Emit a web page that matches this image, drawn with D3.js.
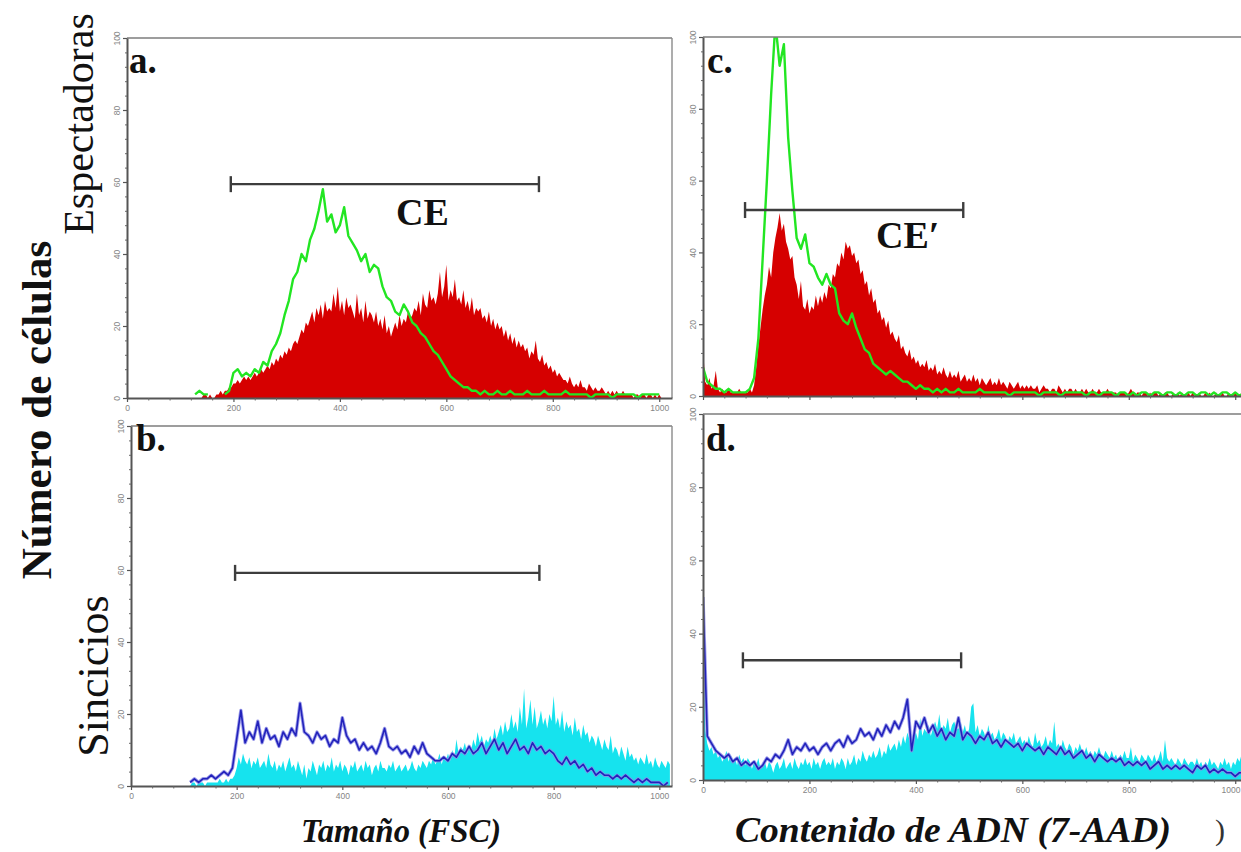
<!DOCTYPE html>
<html>
<head>
<meta charset="utf-8">
<script src="https://cdn.jsdelivr.net/npm/d3@7"></script>
<style>
  body { margin: 0; background: #fff; }
  svg { display: block; }
</style>
</head>
<body>
<svg id="fig" width="1241" height="852"></svg>
<script>
// Histogram channels run 0..1024; fills are stored in 4-channel bins, overlay lines in 8-channel bins.
const channelMax = 1024;
const fillBin = 4;
const lineBin = 8;

// a. Size (FSC), bystander cells: filled population (red) and overlay (green)
const fscBystanderFill = [
  0,0,0,0,0,0,0,0,0,0, 0,0,0,0,0,0,0,0,0,0, 0,0,0,0,0,0,0,0,0,0,
  0,0,0,0,0,0,1,1,0,1,0,0,1,1,2,1,
  2,2,3,3,4,
  4,5,4,5,6,5,6,5,6,7,6,7,8,7,8,
  9,8,10,9,11,10,12,11,13,12,
  14,13,15,16,15,17,19,18,21,20,
  22,24,21,25,23,26,22,27,24,25,
  24,29,25,31,24,27,23,28,25,26,
  24,22,29,23,25,21,27,22,24,23,
  21,24,20,22,19,23,18,20,17,19,
  21,19,23,20,22,21,24,22,23,25,
  24,27,23,29,26,25,30,27,28,26,
  29,35,28,31,37,27,30,28,33,27,
  28,26,30,25,27,24,28,23,25,24,
  25,22,23,21,24,20,22,19,21,19,
  20,17,19,16,18,15,17,14,16,14,
  15,13,14,11,13,12,16,11,10,12,
  9,10,8,9,7,8,6,7,6,5,
  5,4,6,4,3,4,3,5,3,3,
  2,4,3,2,3,2,2,3,2,1,
  2,1,2,1,2,1,1,2,1,1,
  1,1,0,1,1,0,1,1,0,1,
  1,0,1,0,1,0,0,0,0,0
];
const fscBystanderLine = [
  null,null,null,null,null,null,null,null,null,null,null,null,null,null,null,
  null,1,2,1,1,null,null,null,1,2,
  7,8,6,7,6,8,7,10,9,13,
  15,18,23,27,33,35,40,38,44,47,
  52,58,49,51,46,48,53,45,43,41,
  38,40,35,37,36,31,28,27,24,23,
  26,24,21,20,18,17,15,13,12,10,
  8,6,5,4,3,3,2,2,1,2,1,
  1,2,1,1,2,1,1,1,2,1,
  1,1,2,1,1,1,1,2,1,1,
  1,1,1,0,1,1,1,1,0,1,
  1,1,1,1,0,1,1,1,1,1,
  null,null
];

// b. Size (FSC), syncytia: filled population (cyan) and overlay (blue)
const fscSyncytiaFill = [
  0,0,0,0,0,0,0,0,0,0, 0,0,0,0,0,0,0,0,0,0, 0,0,0,0,0,0,0,0,0,
  1,1,0,1,1,1,0,1,1,1,1,1,1,2,1,1,2,1,2,2,3,
  5,8,6,9,7,6,8,5,7,6,
  8,5,6,7,5,9,6,5,7,4,
  6,5,7,4,6,8,5,6,4,7,
  5,3,6,2,5,4,7,5,3,6,
  5,7,4,6,5,8,4,6,5,7,
  4,6,5,3,6,5,7,4,5,6,
  4,7,5,6,3,5,6,4,7,5,
  5,4,6,5,7,4,5,6,4,5,
  6,4,5,7,5,4,6,5,7,6,
  5,7,6,8,6,7,9,6,8,7,
  9,7,10,8,13,9,11,10,12,9,
  11,10,13,11,15,12,14,11,13,12,
  14,12,16,13,15,17,14,18,15,16,
  20,16,18,15,22,17,27,16,19,24,
  17,22,16,18,21,17,19,16,20,18,
  25,17,19,16,21,15,18,16,17,14,
  19,15,16,13,17,14,15,12,14,13,
  11,14,12,10,13,11,10,14,9,11,
  10,8,11,9,7,11,8,9,7,8,
  6,8,7,6,9,6,7,5,8,6,
  5,7,6,5,7,6
];
const fscSyncytiaLine = [
  null,null,null,null,null,null,null,null,null,null,null,null,null,null,
  1,2,1,2,2,3,2,3,4,3,
  5,13,21,12,15,13,18,12,16,13,
  14,11,15,13,16,14,23,15,14,12,
  15,13,14,11,13,12,19,14,12,13,
  10,12,10,11,9,12,16,11,10,11,
  9,10,8,11,9,12,9,8,7,7,
  8,7,9,8,10,9,11,9,10,12,
  9,11,13,10,12,9,11,13,10,11,
  9,12,10,11,9,10,9,7,6,8,
  6,7,5,6,4,5,3,4,3,3,
  2,3,2,3,2,1,2,1,2,1,
  1,1,0,1
];

// c. DNA content (7-AAD), bystander cells
const dnaBystanderFill = [
  14,4,3,5,2,3,7,2,1,2,
  1,1,2,1,1,1,1,2,1,1,1,1,2,1,
  3,8,14,19,24,28,31,36,33,40,
  44,47,51,46,48,43,41,38,39,33,
  31,27,32,25,24,27,23,25,24,28,
  25,28,26,29,27,31,30,34,33,37,
  36,40,38,43,41,42,39,40,37,38,
  34,35,31,32,28,30,26,27,23,24,
  21,22,19,21,17,18,16,15,17,13,
  14,12,11,13,10,11,9,10,8,9,
  8,10,7,8,7,9,6,7,6,8,
  6,5,7,5,6,5,7,4,5,6,
  4,5,4,6,4,5,3,5,4,3,
  4,5,3,4,3,5,3,4,3,2,
  4,3,2,3,4,2,3,2,3,2,
  3,2,2,3,1,2,3,2,2,1,
  2,2,1,3,2,1,2,1,2,2,
  1,2,1,1,2,1,2,1,1,2,
  1,1,2,1,1,1,2,1,1,1,
  1,0,1,1,1,0,1,2,1,0,
  1,1,0,1,1,0,1,0,1,1,
  0,1,0,1,1,0,0,1,0,1,
  0,1,0,0,1,0,1,0,0,1,
  0,0,1,0,1,0,0,1,0,0,
  1,0,0,1,0,0,1,0,0,1,0,1
];
const dnaBystanderLine = [
  8,4,3,2,2,1,2,1,1,1,
  1,2,5,16,38,60,84,104,92,98,
  72,57,44,41,45,37,36,33,31,34,
  31,30,23,21,20,23,19,16,13,12,
  9,8,7,6,7,6,5,4,4,3,
  2,3,2,2,1,2,1,2,
  1,1,2,1,1,1,1,2,1,1,
  1,1,1,1,0,1,1,1,1,1,
  1,0,1,1,1,1,0,1,1,1,
  1,1,0,1,1,0,1,1,1,0,
  1,1,0,1,0,1,1,0,1,1,
  0,1,1,0,1,0,1,1,0,1,
  1,0,1,0,1,1,0,1,0,1
];

// d. DNA content (7-AAD), syncytia
const dnaSyncytiaFill = [
  48,14,10,8,9,7,8,6,7,5,
  6,8,5,7,5,6,4,7,5,6,
  4,6,5,3,5,4,6,3,4,5,
  3,5,4,2,4,5,3,4,6,3,
  4,5,3,6,4,3,5,4,6,4,
  5,3,6,4,5,3,5,6,4,5,
  4,6,3,5,4,6,5,3,6,4,
  5,7,4,6,5,8,6,5,7,6,
  8,6,7,9,6,8,7,10,8,9,
  10,8,11,9,12,10,13,11,10,12,
  13,11,17,12,14,13,15,12,14,16,
  14,18,13,15,14,17,13,15,16,14,
  14,16,13,15,12,14,20,21,13,15,
  12,14,13,11,15,12,13,11,12,14,
  11,13,12,10,12,11,13,10,11,12,
  10,11,9,12,10,9,13,10,11,9,
  10,12,9,11,10,16,9,10,8,11,
  9,8,10,9,7,9,8,10,8,7,
  9,7,8,6,8,7,9,7,6,8,
  7,6,8,6,7,5,7,6,8,6,
  6,9,5,7,6,5,7,6,5,7,
  6,5,7,5,6,8,5,11,6,5,
  6,5,4,6,5,4,6,5,4,5,
  5,4,6,4,5,3,5,4,6,4,
  5,4,3,5,4,6,4,5,3,5,
  4,6,5,7,6,7
];
const dnaSyncytiaLine = [
  50,12,10,8,7,6,7,5,6,4,
  5,4,5,3,4,6,5,7,6,8,
  11,7,9,8,10,8,9,7,9,10,
  8,10,11,9,12,10,11,14,12,13,
  11,14,12,15,13,16,14,17,22,8,
  16,14,17,13,15,12,14,11,13,12,
  17,11,13,12,10,12,11,13,10,11,
  9,11,10,9,10,8,10,9,8,9,
  7,9,8,7,9,7,8,6,7,8,
  6,7,5,7,6,5,6,5,6,4,
  5,4,5,4,5,3,4,5,3,4,
  3,4,3,4,3,2,4,3,4,2,
  3,2,3,2,2,1,2,2
];

// Gates: [start channel, end channel, level]
const gateA = [195, 774, 59.4];
const gateB = [197, 773, 59.2];
const gateC = [79, 489, 51.8];
const gateD = [75, 485, 32.7];

const yMajor = [0, 20, 40, 60, 80, 100];
const xMajor = [0, 200, 400, 600, 800, 1000];
const yMinorStep = 4;
const xMinorStep = 40;

const RED = '#d60000', GREEN = '#22e622', CYAN = '#16e3ee', BLUE = '#2222bb', BLUE_HALO = '#8c8ce6';
const figWidth = 1241;

const panels = [
  { key: 'a', left: 127, right: 672, top: 38, bottom: 398,
    fill: fscBystanderFill, fillColor: RED, line: fscBystanderLine, lineColor: GREEN, lineWidth: 2.4, halo: false,
    gate: gateA, letter: 'a.', letterX: 129, letterY: 73, gateText: 'CE', gateTextX: 396, gateTextY: 225, xLabels: true },
  { key: 'b', left: 131, right: 672, top: 426, bottom: 786,
    fill: fscSyncytiaFill, fillColor: CYAN, line: fscSyncytiaLine, lineColor: BLUE, lineWidth: 1.6, halo: true,
    gate: gateB, letter: 'b.', letterX: 136, letterY: 451, gateText: null, xLabels: true },
  { key: 'c', left: 703, right: 1248, top: 37, bottom: 396,
    fill: dnaBystanderFill, fillColor: RED, line: dnaBystanderLine, lineColor: GREEN, lineWidth: 2.4, halo: false,
    gate: gateC, letter: 'c.', letterX: 707, letterY: 73, gateText: 'CE\u2032', gateTextX: 876, gateTextY: 248, xLabels: false },
  { key: 'd', left: 703, right: 1248, top: 414, bottom: 780,
    fill: dnaSyncytiaFill, fillColor: CYAN, line: dnaSyncytiaLine, lineColor: BLUE, lineWidth: 1.6, halo: true,
    gate: gateD, letter: 'd.', letterX: 706, letterY: 451, gateText: null, xLabels: true }
];

const svg = d3.select('#fig');
const defs = svg.append('defs');
const serif = "'Liberation Serif', 'Times New Roman', serif";
const sans = "'Liberation Sans', Arial, sans-serif";

panels.forEach(p => {
  const x = d3.scaleLinear().domain([0, channelMax]).range([p.left, p.right]);
  const y = d3.scaleLinear().domain([0, 100]).range([p.bottom, p.top]);
  const g = svg.append('g').attr('class', 'panel-' + p.key);

  defs.append('clipPath').attr('id', 'clip-' + p.key)
    .append('rect')
    .attr('x', p.left).attr('y', p.top)
    .attr('width', p.right - p.left).attr('height', p.bottom - p.top);

  const plot = g.append('g').attr('clip-path', `url(#clip-${p.key})`);

  // filled histogram
  const fillPts = p.fill.map((v, i) => [i * fillBin, v]);
  plot.append('path')
    .datum(fillPts)
    .attr('d', d3.area().x(d => x(d[0])).y0(y(0)).y1(d => y(d[1])))
    .attr('fill', p.fillColor);

  // overlay histogram line
  const linePts = p.line.map((v, i) => [i * lineBin, v]);
  const lineGen = d3.line().defined(d => d[1] !== null).x(d => x(d[0])).y(d => y(d[1]));
  if (p.halo) {
    plot.append('path').datum(linePts).attr('d', lineGen)
      .attr('fill', 'none').attr('stroke', BLUE_HALO).attr('stroke-width', 3.4)
      .attr('stroke-linejoin', 'round').attr('opacity', 0.85);
  }
  plot.append('path').datum(linePts).attr('d', lineGen)
    .attr('fill', 'none').attr('stroke', p.lineColor).attr('stroke-width', p.lineWidth)
    .attr('stroke-linejoin', 'round');

  // frame (top and right)
  g.append('line').attr('x1', p.left).attr('x2', p.right).attr('y1', p.top).attr('y2', p.top)
    .attr('stroke', '#7c7c7c').attr('stroke-width', 1.6);
  g.append('line').attr('x1', p.right).attr('x2', p.right).attr('y1', p.top).attr('y2', p.bottom)
    .attr('stroke', '#8a8a8a').attr('stroke-width', 1.4);

  // y axis
  const yAx = g.append('g').attr('transform', `translate(${p.left},0)`)
    .call(d3.axisLeft(y).tickValues(yMajor).tickSize(4).tickSizeOuter(0).tickFormat(d3.format('d')));
  yAx.select('.domain').attr('stroke', '#555').attr('stroke-width', 2);
  yAx.selectAll('.tick line').attr('stroke', '#555').attr('stroke-width', 1.2);
  yAx.selectAll('.tick text')
    .attr('transform', 'rotate(-90)')
    .attr('x', 0).attr('y', -7).attr('dy', 0)
    .attr('text-anchor', 'middle')
    .attr('fill', '#858585')
    .style('font-family', sans).style('font-size', '8.5px');
  g.append('g').attr('transform', `translate(${p.left},0)`)
    .call(d3.axisLeft(y).tickValues(d3.range(0, 101, yMinorStep).filter(v => v % 20)).tickSize(2).tickFormat(''))
    .call(a => a.select('.domain').remove())
    .selectAll('.tick line').attr('stroke', '#666').attr('stroke-width', 1);

  // x axis
  const xAx = g.append('g').attr('transform', `translate(0,${p.bottom})`)
    .call(d3.axisBottom(x).tickValues(xMajor).tickSize(4).tickSizeOuter(0)
      .tickFormat(p.xLabels ? d3.format('d') : ''));
  xAx.select('.domain').attr('stroke', '#555').attr('stroke-width', 2);
  xAx.selectAll('.tick line').attr('stroke', '#555').attr('stroke-width', 1.2);
  xAx.selectAll('.tick text')
    .attr('y', 7).attr('dy', '0.71em')
    .attr('fill', '#858585')
    .style('font-family', sans).style('font-size', '8.5px');
  // keep a label that would run past the figure's right edge inside it
  xAx.selectAll('.tick').each(function (v) {
    const t = d3.select(this).select('text');
    if (!t.node() || !t.text()) return;
    const w = t.node().getComputedTextLength();
    if (x(v) + w / 2 > figWidth - 1) t.attr('text-anchor', 'end').attr('x', figWidth - 1 - x(v));
  });
  g.append('g').attr('transform', `translate(0,${p.bottom})`)
    .call(d3.axisBottom(x).tickValues(d3.range(0, channelMax, xMinorStep).filter(v => v % 200)).tickSize(2.5).tickFormat(''))
    .call(a => a.select('.domain').remove())
    .selectAll('.tick line').attr('stroke', '#666').attr('stroke-width', 1);

  // gate bar with end caps
  const [g0, g1, lvl] = p.gate;
  const gy = y(lvl);
  const gate = g.append('g').attr('stroke', '#3d3d3d').attr('stroke-width', 2.4);
  gate.append('line').attr('x1', x(g0)).attr('x2', x(g1)).attr('y1', gy).attr('y2', gy);
  gate.append('line').attr('x1', x(g0)).attr('x2', x(g0)).attr('y1', gy - 8).attr('y2', gy + 8);
  gate.append('line').attr('x1', x(g1)).attr('x2', x(g1)).attr('y1', gy - 8).attr('y2', gy + 8);

  if (p.gateText) {
    g.append('text').attr('x', p.gateTextX).attr('y', p.gateTextY)
      .text(p.gateText)
      .style('font-family', serif).style('font-weight', 'bold').style('font-size', '38px')
      .attr('fill', '#111');
  }

  // panel letter
  g.append('text').attr('x', p.letterX).attr('y', p.letterY)
    .text(p.letter)
    .style('font-family', serif).style('font-weight', 'bold').style('font-size', '37px')
    .attr('fill', '#111');
});

// Row labels and shared y title
const rotText = (txt, cx, cy, size, weight) =>
  svg.append('text')
    .attr('transform', `translate(${cx},${cy}) rotate(-90)`)
    .attr('text-anchor', 'middle')
    .text(txt)
    .style('font-family', serif).style('font-weight', weight).style('font-size', size + 'px')
    .attr('fill', '#111');

rotText('N\u00famero de c\u00e9lulas', 51, 410, 43, 'bold');
rotText('Espectadoras', 93, 124, 42, 'normal');
rotText('Sincicios', 108, 676, 44, 'normal');

// Column (x) titles
svg.append('text').attr('x', 401).attr('y', 842).attr('text-anchor', 'middle')
  .attr('textLength', 200).attr('lengthAdjust', 'spacingAndGlyphs')
  .text('Tama\u00f1o (FSC)')
  .style('font-family', serif).style('font-weight', 'bold').style('font-style', 'italic').style('font-size', '34px')
  .attr('fill', '#111');
svg.append('text').attr('x', 953).attr('y', 842).attr('text-anchor', 'middle')
  .attr('textLength', 436).attr('lengthAdjust', 'spacingAndGlyphs')
  .text('Contenido de ADN (7-AAD)')
  .style('font-family', serif).style('font-weight', 'bold').style('font-style', 'italic').style('font-size', '35px')
  .attr('fill', '#111');
svg.append('text').attr('x', 1215).attr('y', 840)
  .text(')')
  .style('font-family', serif).style('font-size', '30px')
  .attr('fill', '#333');
</script>
</body>
</html>
